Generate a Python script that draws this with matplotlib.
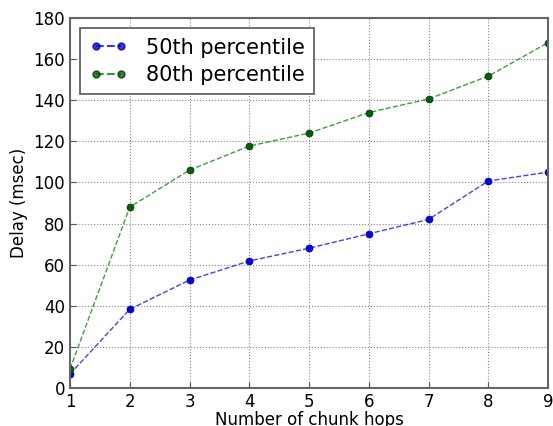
import matplotlib.pyplot as plt
from matplotlib.lines import Line2D

hops = [1, 2, 3, 4, 5, 6, 7, 8, 9]
p50 = [6.8, 38.3, 52.5, 61.8, 68.0, 75.0, 82.0, 100.7, 105.0]
p80 = [9.2, 88.0, 106.0, 117.7, 124.0, 134.0, 140.6, 151.7, 168.0]

plt.rcParams['font.family'] = 'DejaVu Sans'
fig = plt.figure(figsize=(5.53, 4.26), dpi=100)
ax = fig.add_axes([70/553, 38/426, 478/553, 370/426])

ax.plot(hops, p50, '--', color='#0000ff', alpha=0.75, lw=1)
ax.plot(hops, p80, '--', color='#008000', alpha=0.75, lw=1)
ax.plot(hops, p50, 'o', color='#0000ff', ms=5, mec='#000080', mew=0.5)
ax.plot(hops, p80, 'o', color='#006400', ms=5, mec='#003000', mew=0.5)

# legend handles: dashes with a marker at each end
h1 = Line2D([], [], ls='--', color='#0000ff', alpha=0.8, marker='o', mfc='#0000ff', mec='#000080', ms=5)
h2 = Line2D([], [], ls='--', color='#008000', alpha=0.8, marker='o', mfc='#006400', mec='#003000', ms=5)
leg = ax.legend([h1, h2], ['50th percentile', '80th percentile'], loc='upper left',
                fontsize=15, fancybox=False, framealpha=1, edgecolor='#555555',
                numpoints=2, handlelength=1.8, handletextpad=0.9,
                borderaxespad=0.5, labelspacing=0.35, borderpad=0.45)
leg.get_frame().set_linewidth(1.2)

ax.set_xlim(1, 9)
ax.set_ylim(0, 180)
ax.set_xticks(range(1, 10))
ax.set_yticks(range(0, 181, 20))
ax.grid(True, ls=':', color='#888888', lw=0.8)
ax.tick_params(direction='in', labelsize=12, length=4, color='#555555')
for s in ax.spines.values():
    s.set_color('#666666')
    s.set_linewidth(1.5)
ax.set_xlabel('Number of chunk hops', fontsize=12, labelpad=0)
ax.set_ylabel('Delay (msec)', fontsize=12)

fig.savefig('out.png', dpi=100)
